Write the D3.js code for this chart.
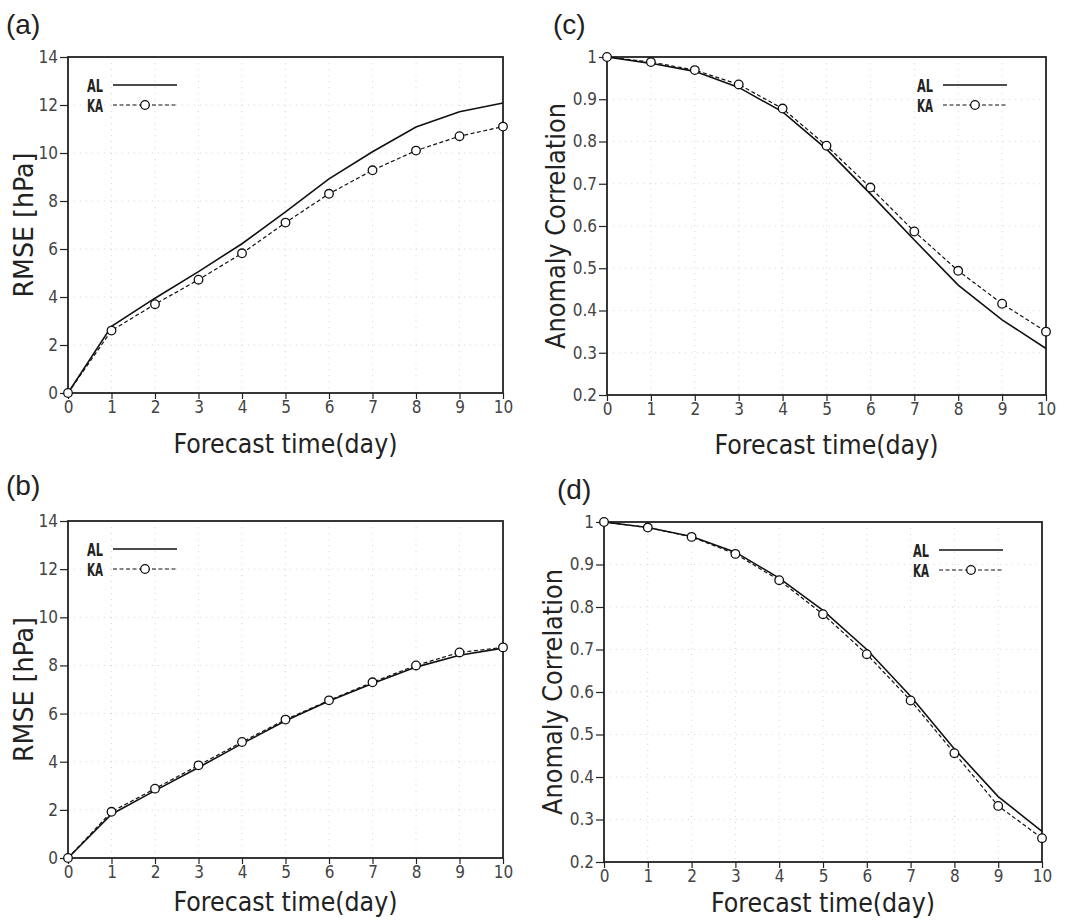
<!DOCTYPE html>
<html>
<head>
<meta charset="utf-8">
<script src="https://cdn.jsdelivr.net/npm/d3@7"></script>
<style>
  body { margin: 0; background: #fff; }
</style>
</head>
<body>
<script>
// data
var days = [0, 1, 2, 3, 4, 5, 6, 7, 8, 9, 10];
var rmseAL_a = [0, 2.78, 3.95, 5.06, 6.22, 7.55, 8.92, 10.05, 11.08, 11.72, 12.08];
var rmseKA_a = [0, 2.6, 3.7, 4.72, 5.82, 7.1, 8.3, 9.28, 10.1, 10.7, 11.1];
var rmseAL_b = [0, 1.82, 2.8, 3.76, 4.75, 5.7, 6.52, 7.25, 7.93, 8.42, 8.72];
var rmseKA_b = [0, 1.92, 2.88, 3.85, 4.82, 5.75, 6.55, 7.3, 8.0, 8.54, 8.75];
var acAL_c = [1, 0.985, 0.966, 0.928, 0.87, 0.782, 0.676, 0.567, 0.46, 0.378, 0.31];
var acKA_c = [1, 0.988, 0.969, 0.935, 0.878, 0.79, 0.691, 0.587, 0.494, 0.416, 0.35];
var acAL_d = [1, 0.987, 0.966, 0.929, 0.868, 0.792, 0.7, 0.59, 0.466, 0.354, 0.272];
var acKA_d = [1, 0.987, 0.965, 0.925, 0.863, 0.783, 0.689, 0.58, 0.456, 0.332, 0.256];
var rmseTicks = [0, 2, 4, 6, 8, 10, 12, 14];
var acTicks = [0.2, 0.3, 0.4, 0.5, 0.6, 0.7, 0.8, 0.9, 1];
var seriesNames = ["AL", "KA"];

var W = 1066, H = 923;
var font = {tick: "'Liberation Sans Narrow', 'DejaVu Sans Condensed', sans-serif",
            title: "'DejaVu Sans', sans-serif",
            legend: "'Liberation Sans Narrow', 'DejaVu Sans Condensed', sans-serif"};
var col = {frame: "#222", line: "#111", grid: "#d8d8d8", text: "#222"};

var panels = [
    {tag: "(a)", box: {l: 68, t: 57, r: 503, b: 393}, ydom: [0, 14], yticks: rmseTicks,
     ytitle: "RMSE [hPa]", al: rmseAL_a, ka: rmseKA_a, leg: "left", tagX: 6, tagY: 34, xtY: 453},
    {tag: "(c)", box: {l: 607, t: 57, r: 1046, b: 395}, ydom: [0.2, 1], yticks: acTicks,
     ytitle: "Anomaly Correlation", al: acAL_c, ka: acKA_c, leg: "right", tagX: 553, tagY: 34, xtY: 454},
    {tag: "(b)", box: {l: 68, t: 521, r: 503, b: 858}, ydom: [0, 14], yticks: rmseTicks,
     ytitle: "RMSE [hPa]", al: rmseAL_b, ka: rmseKA_b, leg: "left", tagX: 6, tagY: 495, xtY: 911},
    {tag: "(d)", box: {l: 604, t: 522, r: 1042, b: 862}, ydom: [0.2, 1], yticks: acTicks,
     ytitle: "Anomaly Correlation", al: acAL_d, ka: acKA_d, leg: "right", tagX: 557, tagY: 499, xtY: 912}
];

var svg = d3.select("body").append("svg")
    .attr("width", W)
    .attr("height", H)
    .style("display", "block");

svg.append("rect").attr("width", W).attr("height", H).attr("fill", "#fff");

function fmtTick(d) {
    if (Number.isInteger(d)) return String(d);
    return d.toFixed(1);
}

function drawPanel(p) {
    var b = p.box;
    var x = d3.scaleLinear().domain([0, 10]).range([b.l, b.r]);
    var y = d3.scaleLinear().domain(p.ydom).range([b.b, b.t]);
    var g = svg.append("g");

    // faint dotted grid
    g.selectAll(".hgrid")
        .data(p.yticks.slice(1, -1))
        .enter().append("line")
            .attr("x1", b.l).attr("x2", b.r)
            .attr("y1", function(d) { return y(d); })
            .attr("y2", function(d) { return y(d); })
            .attr("stroke", col.grid)
            .attr("stroke-width", 1)
            .attr("stroke-dasharray", "1,5");
    g.selectAll(".vgrid")
        .data(days.slice(1, -1))
        .enter().append("line")
            .attr("y1", b.t).attr("y2", b.b)
            .attr("x1", function(d) { return x(d); })
            .attr("x2", function(d) { return x(d); })
            .attr("stroke", col.grid)
            .attr("stroke-width", 1)
            .attr("stroke-dasharray", "1,5");

    // axes
    var xAxis = g.append("g")
        .attr("transform", "translate(0," + b.b + ")")
        .call(d3.axisBottom(x).tickValues(days).tickSize(6).tickPadding(1).tickFormat(d3.format("d")));
    var yAxis = g.append("g")
        .attr("transform", "translate(" + b.l + ",0)")
        .call(d3.axisLeft(y).tickValues(p.yticks).tickSize(8).tickPadding(2).tickFormat(fmtTick));
    [xAxis, yAxis].forEach(function(a) {
        a.select(".domain").remove();
        a.selectAll(".tick line").attr("stroke", col.frame).attr("stroke-width", 1.2);
        a.selectAll(".tick text")
            .attr("fill", "#444")
            .attr("font-family", font.tick)
            .attr("font-size", 17);
    });
    xAxis.selectAll(".tick text").attr("dy", "0.75em");

    // frame
    g.append("rect")
        .attr("x", b.l).attr("y", b.t)
        .attr("width", b.r - b.l).attr("height", b.b - b.t)
        .attr("fill", "none")
        .attr("stroke", col.frame)
        .attr("stroke-width", 1.8);

    // lines
    var line = d3.line()
        .x(function(d, i) { return x(days[i]); })
        .y(function(d) { return y(d); });
    g.append("path")
        .datum(p.al)
        .attr("d", line)
        .attr("fill", "none")
        .attr("stroke", col.line)
        .attr("stroke-width", 1.6);
    g.append("path")
        .datum(p.ka)
        .attr("d", line)
        .attr("fill", "none")
        .attr("stroke", col.line)
        .attr("stroke-width", 1.2)
        .attr("stroke-dasharray", "4,2.5");
    g.selectAll(".mk")
        .data(p.ka)
        .enter().append("circle")
            .attr("cx", function(d, i) { return x(days[i]); })
            .attr("cy", function(d) { return y(d); })
            .attr("r", 4.3)
            .attr("fill", "#fff")
            .attr("stroke", col.line)
            .attr("stroke-width", 1.3);

    // legend
    var lx = p.leg === "left" ? b.l + 19 : b.r - 129;
    var ly = b.t + 28;
    seriesNames.forEach(function(name, i) {
        var yy = ly + i * 20;
        g.append("text")
            .attr("x", lx).attr("y", yy + 7)
            .attr("fill", col.text)
            .attr("font-family", font.legend)
            .attr("font-weight", "bold")
            .attr("font-size", 17)
            .attr("textLength", 16)
            .attr("lengthAdjust", "spacingAndGlyphs")
            .text(name);
        g.append("line")
            .attr("x1", lx + 26).attr("x2", lx + 90)
            .attr("y1", yy).attr("y2", yy)
            .attr("stroke", col.line)
            .attr("stroke-width", i === 0 ? 1.3 : 1.1)
            .attr("stroke-dasharray", i === 0 ? null : "4,2.5");
        if (i === 1) {
            g.append("circle")
                .attr("cx", lx + 58).attr("cy", yy)
                .attr("r", 4.3)
                .attr("fill", "#fff")
                .attr("stroke", col.line)
                .attr("stroke-width", 1.3);
        }
    });

    // titles
    g.append("text")
        .attr("x", (b.l + b.r) / 2)
        .attr("y", p.xtY)
        .attr("text-anchor", "middle")
        .attr("textLength", 224)
        .attr("lengthAdjust", "spacingAndGlyphs")
        .attr("fill", col.text)
        .attr("font-family", font.title)
        .attr("font-size", 26)
        .text("Forecast time(day)");
    var rm = p.ytitle === "RMSE [hPa]";
    g.append("text")
        .attr("transform", "translate(" + (b.l - (rm ? 35 : 42)) + "," + ((b.t + b.b) / 2) + ") rotate(-90)")
        .attr("text-anchor", "middle")
        .attr("textLength", rm ? 145 : 246)
        .attr("lengthAdjust", "spacingAndGlyphs")
        .attr("fill", col.text)
        .attr("font-family", font.title)
        .attr("font-size", 27)
        .text(p.ytitle);
    g.append("text")
        .attr("x", p.tagX).attr("y", p.tagY)
        .attr("fill", col.text)
        .attr("font-family", "'Liberation Sans', Arial, sans-serif")
        .attr("font-size", 28)
        .text(p.tag);
}

panels.forEach(drawPanel);
</script>
</body>
</html>
